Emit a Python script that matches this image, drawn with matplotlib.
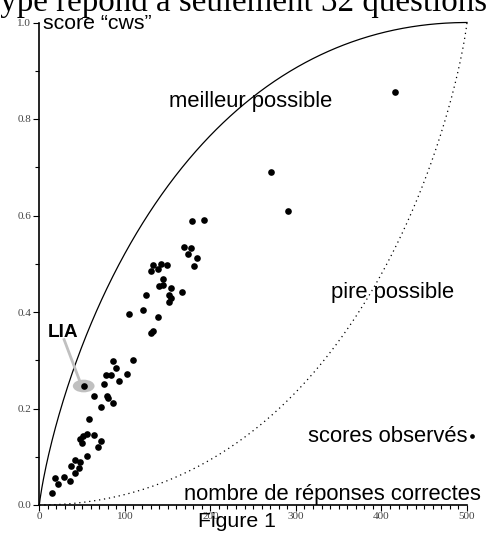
import numpy as np
import matplotlib
matplotlib.use('Agg')
import matplotlib.pyplot as plt
from matplotlib.patches import Ellipse

# ---- data -------------------------------------------------------------
n_questions = 500
correct = [14.8, 18.0, 21.3, 28.9, 35.9, 36.7, 42.1, 42.1, 47.6, 46.8,
           56.1, 47.6, 50.7, 49.9, 56.1, 64.3, 71.9, 69.0, 58.1, 72.1,
           86.1, 79.1, 80.3, 64.2, 51.9, 75.3, 78.2, 84.2, 92.9, 89.1,
           86.1, 102.2, 109.2, 105.2, 121.0, 124.4, 131.1, 132.9, 139.1, 130.2,
           133.2, 139.3, 141.9, 149.0, 144.2, 140.3, 144.9, 153.9, 151.8, 153.9,
           151.2, 167.1, 169.1, 177.0, 173.4, 184.0, 181.2, 178.8, 192.1, 271.2,
           290.3, 415.4]
cws = [0.024, 0.056, 0.0435, 0.058, 0.050, 0.081, 0.093, 0.066, 0.0885, 0.077,
       0.1016, 0.136, 0.142, 0.1285, 0.1467, 0.1457, 0.132, 0.120, 0.1787, 0.2037,
       0.2104, 0.2265, 0.222, 0.226, 0.2466, 0.2518, 0.2698, 0.2688, 0.2576, 0.2835,
       0.2989, 0.2719, 0.2999, 0.3965, 0.4035, 0.4346, 0.357, 0.3596, 0.3892, 0.485,
       0.4974, 0.4885, 0.5001, 0.4984, 0.4688, 0.4545, 0.4555, 0.4504, 0.4342, 0.428,
       0.4207, 0.4415, 0.5347, 0.5333, 0.5202, 0.5119, 0.496, 0.588, 0.590, 0.6908,
       0.610, 0.8553]
lia_index = 24
x_ticks = [0, 100, 200, 300, 400, 500]
y_ticks = [0.0, 0.2, 0.4, 0.6, 0.8, 1.0]

# theoretical bounds of the confidence-weighted score
c = np.arange(0, n_questions + 1)
H = np.concatenate([[0.0], np.cumsum(1.0 / np.arange(1, n_questions + 1))])
best = (c + c * (H[n_questions] - H[c])) / n_questions
worst = (c - (n_questions - c) * (H[n_questions] - H[n_questions - c])) / n_questions

# ---- figure -----------------------------------------------------------
W, Hpx = 487, 544
fig = plt.figure(figsize=(W / 100, Hpx / 100), dpi=100)
ax = fig.add_axes([39.3 / W, (Hpx - 505) / Hpx, (467 - 39.3) / W, 482.5 / Hpx])
ax.set_xlim(0, 500)
ax.set_ylim(0, 1)

sans = 'Liberation Sans'
serif = 'Liberation Serif'

ax.plot(c, best, color='black', lw=0.9, clip_on=False, zorder=2)
ax.plot(c, worst, color='black', lw=0.9, ls=(0, (1, 3)), clip_on=False, zorder=2)

# LIA highlight
lx, ly = correct[lia_index], cws[lia_index]
ax.add_patch(Ellipse((lx, ly), 25.4, 0.0263, color='#c0c0c0', zorder=3, lw=0))
ax.plot([28.4, 47.6], [0.3455, 0.2555], color='#c0c0c0', lw=2.0,
        solid_capstyle='butt', zorder=3)
ax.text(9.35, 0.3488, 'LIA', fontsize=13.7, fontweight='bold', family=sans,
        va='baseline', ha='left')

ax.plot(correct, cws, 'o', color='black', markersize=4.8, markeredgewidth=0,
        clip_on=False, zorder=4)

# labels
ax.text(4.3, 0.986, 'score \u201ccws\u201d', fontsize=15.3, family=sans,
        va='baseline', ha='left')
ax.text(151.7, 0.8255, 'meilleur possible', fontsize=15.8, family=sans,
        va='baseline', ha='left')
ax.text(341, 0.429, 'pire possible', fontsize=15.8, family=sans,
        va='baseline', ha='left')
ax.text(314.7, 0.131, 'scores observ\u00e9s', fontsize=15.8, family=sans,
        va='baseline', ha='left')
ax.plot([505.4], [0.1436], 'o', color='black', markersize=3.4,
        markeredgewidth=0, clip_on=False)
ax.text(169.1, 0.0104, 'nombre de r\u00e9ponses correctes', fontsize=15.8,
        family=sans, va='baseline', ha='left')
ax.text(185.8, -0.0465, 'Figure 1', fontsize=15.3, family=sans,
        va='baseline', ha='left')

fig.text(-9 / W, (Hpx - 11) / Hpx, 'type r\u00e9pond \u00e0 seulement 32 questions',
         fontsize=23.8, family=serif, va='baseline', ha='left')

# axes styling
for s in ['top', 'right']:
    ax.spines[s].set_visible(False)
for s in ['left', 'bottom']:
    ax.spines[s].set_linewidth(1.2)
ax.set_xticks(x_ticks)
ax.set_xticklabels([str(v) for v in x_ticks])
ax.set_yticks(y_ticks)
ax.set_yticklabels(['%.1f' % v for v in y_ticks])
ax.set_xticks(np.arange(0, 501, 10), minor=True)
ax.set_yticks(np.arange(0, 1.01, 0.1), minor=True)
ax.tick_params(which='major', direction='out', length=4.3, width=0.8,
               labelsize=8, labelcolor='#444444', pad=1.5)
ax.tick_params(axis='x', which='major', pad=0.8)
ax.tick_params(which='minor', direction='out', length=3, width=0.8)
for lab in ax.get_xticklabels() + ax.get_yticklabels():
    lab.set_family(serif)

fig.savefig('out.png', dpi=100)
